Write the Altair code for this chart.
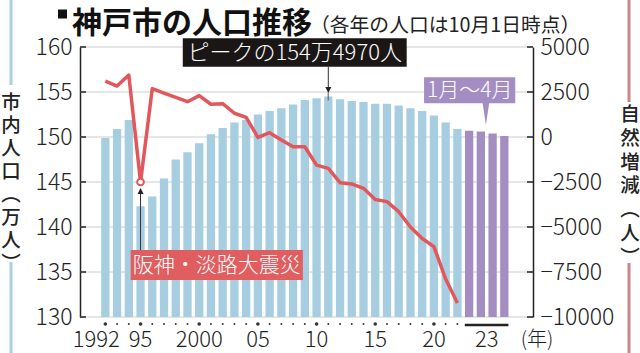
import altair as alt
import pandas as pd

# ---------------- data ----------------
years = list(range(1992, 2023))
population = [149.9, 150.9, 151.9, 142.3, 143.4, 145.4, 147.5, 148.3, 149.3, 150.3,
              151.0, 151.6, 151.9, 152.5, 152.9, 153.2, 153.6, 154.1, 154.3, 154.5,
              154.2, 154.0, 153.9, 153.7, 153.7, 153.5, 153.2, 152.9, 152.4, 151.6, 150.9]
natural_change = [3100, 2830, 3440, -2500, 2690, 2440, 2200, 1960, 2300, 1820,
                  1850, 1320, 1090, -20, 240, -170, -540, -540, -1560, -1740,
                  -2540, -2610, -2850, -3470, -3590, -4150, -5000, -5640, -6090, -7890, -9220]
months_2023 = ["1月", "2月", "3月", "4月"]
population_2023 = [150.7, 150.6, 150.4, 150.1]

tick_years = [1992, 1995, 2000, 2005, 2010, 2015, 2020]
tick_labels = ["1992", "95", "2000", "05", "10", "15", "20"]
label_2023 = "23"
year_unit = "(年)"
left_ticks = [130, 135, 140, 145, 150, 155, 160]
right_ticks = [-10000, -7500, -5000, -2500, 0, 2500, 5000]

title_text = "神戸市の人口推移"
subtitle_text = "（各年の人口は10月1日時点）"
peak_text = "ピークの154万4970人"
quake_text = "阪神・淡路大震災"
months_text = "1月～4月"
left_title = list("市内人口︵万人︶")
right_title = list("自然増減︵人︶")

# ---------------- tables ----------------
n = len(years)
df_years = pd.DataFrame({"i": list(range(n)), "year": years,
                         "pop": population, "nat": natural_change})
df_years["major"] = [(y % 5 == 0) or k == 0 for k, y in enumerate(years)]
df_months = pd.DataFrame({"i": list(range(n, n + len(months_2023))),
                          "month": months_2023, "pop": population_2023})
df_ticks = pd.DataFrame({"i": [y - years[0] for y in tick_years] + [df_months["i"].mean()],
                         "label": tick_labels + [label_2023]})
df_lt = pd.DataFrame({"v": left_ticks})
df_rt = pd.DataFrame({"v": right_ticks})
one = pd.DataFrame({"k": [0]})
peak_i = int(df_years["pop"].idxmax())
quake_i = years.index(1995)

# ---------------- styling ----------------
BLUE = "#a7cde1"
PURPLE = "#a48dc0"
RED = "#e0585b"
JP = "Noto Sans CJK JP"
NUM = "Noto Sans CJK JP"

xscale = alt.Scale(domain=[-1.733, 36.017], nice=False, zero=False)
yL = alt.Scale(domain=[130, 160], nice=False, zero=False)
yR = alt.Scale(domain=[-10000, 5000], nice=False, zero=False)

left_axis = alt.Axis(values=left_ticks, title=None, grid=False,
                     domainColor="#222", domainWidth=1.5, ticks=False,
                     labelFont=NUM, labelFontSize=23, labelFontWeight=300,
                     labelColor="#222", labelPadding=8)
right_axis = alt.Axis(values=right_ticks, title=None, orient="right", grid=False,
                      domainColor="#222", domainWidth=1.5, ticks=False, format="d",
                      labelFont=NUM, labelFontSize=23, labelFontWeight=300,
                      labelColor="#222", labelPadding=7)


def X(f):
    return alt.X(f, type="quantitative", scale=xscale, axis=None)


def XD(v):
    return alt.XDatum(v, type="quantitative", scale=xscale, axis=None)


def YD(v):
    return alt.YDatum(v, type="quantitative", scale=yL, axis=left_axis)


def YL(f):
    return alt.Y(f, type="quantitative", scale=yL, axis=left_axis)


def YR(f):
    return alt.Y(f, type="quantitative", scale=yR, axis=right_axis)


# ---------------- left layer (population) ----------------
grid = alt.Chart(df_lt).mark_rule(color="#cccccc", strokeWidth=1).encode(
    x=alt.value(0), x2=alt.value(453), y=YL("v"))
bars = alt.Chart(df_years).mark_bar(color=BLUE, size=8.3).encode(
    x=X("i"), y=YL("pop"), y2=alt.Y2Datum(130))
bars_m = alt.Chart(df_months).mark_bar(color=PURPLE, size=8.3).encode(
    x=X("i"), y=YL("pop"), y2=alt.Y2Datum(130))

left_hooks = alt.Chart(df_lt).mark_rule(color="#222", strokeWidth=1.5).encode(
    x=alt.value(0), x2=alt.value(6), y=YL("v"))

dots = alt.Chart(df_years).mark_circle(color="#333", opacity=1).encode(
    x=X("i"), y=alt.value(277),
    size=alt.condition("datum.major", alt.value(13), alt.value(4)))

under = alt.Chart(one).mark_rule(color="#222", strokeWidth=2.5).encode(
    x=XD(df_months["i"].min() - 0.37), x2=alt.X2Datum(df_months["i"].max() + 0.35),
    y=alt.value(278))

ticklab = alt.Chart(df_ticks).transform_filter("datum.i > 0").mark_text(
    font=NUM, fontSize=22, fontWeight=300, color="#222", baseline="alphabetic").encode(
    x=X("i"), y=alt.value(300), text="label:N")
ticklab0 = alt.Chart(df_ticks).transform_filter("datum.i == 0").mark_text(
    font=NUM, fontSize=22, fontWeight=300, color="#222", baseline="alphabetic", dx=-9).encode(
    x=X("i"), y=alt.value(300), text="label:N")
unit = alt.Chart(one).mark_text(text=year_unit, font=JP, fontSize=20, fontWeight=300,
                                color="#222", baseline="alphabetic").encode(
    x=alt.value(457), y=alt.value(299))

# peak annotation
peak_box = alt.Chart(one).mark_rect(color="#1b1616").encode(
    x=XD(6.6), x2=alt.X2Datum(25.68), y=YD(160.97), y2=alt.Y2Datum(157.81))
peak_lbl = alt.Chart(one).mark_text(text=peak_text, font=JP, fontSize=22, fontWeight=300,
                                    color="white", baseline="middle").encode(
    x=XD(16.14), y=YD(159.3))
peak_arrow = alt.Chart(one).mark_rule(color="#333", strokeWidth=1).encode(
    x=XD(peak_i), y=YD(157.81), y2=alt.Y2Datum(155.3))
peak_head = alt.Chart(one).mark_point(shape="M -1 -1 L 1 -1 L 0 1 Z", size=36,
                                      filled=True, color="#222", opacity=1).encode(
    x=XD(peak_i), y=YD(155.22))
peak_cap = alt.Chart(df_years).transform_filter(f"datum.i == {peak_i}").mark_tick(
    color="#555", thickness=1.5, size=8).encode(x=X("i"), y=YL("pop"))

# earthquake annotation
quake_box = alt.Chart(one).mark_rect(color="#e05d60").encode(
    x=XD(2.16), x2=alt.X2Datum(16.83), y=YD(137.44), y2=alt.Y2Datum(134.11))
quake_lbl = alt.Chart(one).mark_text(text=quake_text, font=JP, fontSize=21, fontWeight=300,
                                     color="white", baseline="middle").encode(
    x=XD(9.49), y=YD(135.72))
quake_arrow = alt.Chart(one).mark_rule(color="#333", strokeWidth=1).encode(
    x=XD(quake_i), y=YD(137.44), y2=alt.Y2Datum(144.0))
quake_head = alt.Chart(one).mark_point(shape="M -1 1 L 1 1 L 0 -1 Z", size=36,
                                       filled=True, color="#222", opacity=1).encode(
    x=XD(quake_i), y=YD(144.0))

# months annotation
mon_box = alt.Chart(one).mark_rect(color="#a48dc2").encode(
    x=XD(27.16), x2=alt.X2Datum(34.93), y=YD(156.63), y2=alt.Y2Datum(153.74))
mon_ptr = alt.Chart(one).mark_point(shape="M -0.3 -1 L 0.3 -1 L 0 1 Z", size=484,
                                    filled=True, color="#a48dc2", opacity=1).encode(
    x=XD(df_months["i"].mean() - 0.07), y=YD(152.56))
mon_lbl = alt.Chart(one).mark_text(text=months_text, font=JP, fontSize=21, fontWeight=300,
                                   color="white", baseline="middle").encode(
    x=XD(31.05), y=YD(155.15))

# titles & frame
square = alt.Chart(one).mark_square(color="#111", size=81, opacity=1).encode(
    x=alt.value(-17.5), y=alt.value(-33))
title = alt.Chart(one).mark_text(text=title_text, font=JP, fontSize=30, fontWeight="bold",
                                 color="#111", align="left", baseline="alphabetic").encode(
    x=alt.value(-8), y=alt.value(-14))
subtitle = alt.Chart(one).mark_text(text=subtitle_text, font=JP, fontSize=19.8,
                                    color="#222", align="left", baseline="alphabetic").encode(
    x=alt.value(230), y=alt.value(-15))
ltitle = alt.Chart(one).mark_text(text=left_title, font=JP, fontSize=19.5, fontWeight=500,
                                  color="#222", baseline="top", lineHeight=23.0).encode(
    x=alt.value(-69), y=alt.value(47))
rtitle = alt.Chart(one).mark_text(text=right_title, font=JP, fontSize=19.5, fontWeight=500,
                                  color="#222", baseline="top", lineHeight=23.8).encode(
    x=alt.value(550), y=alt.value(59))
bl1 = alt.Chart(one).mark_rule(color="#a9cfe0", strokeWidth=3).encode(
    x=alt.value(-69), y=alt.value(-47), y2=alt.value(38))
bl2 = alt.Chart(one).mark_rule(color="#a9cfe0", strokeWidth=3).encode(
    x=alt.value(-69), y=alt.value(215), y2=alt.value(306))
rl1 = alt.Chart(one).mark_rule(color="#c8858a", strokeWidth=3).encode(
    x=alt.value(549), y=alt.value(-47), y2=alt.value(55))
rl2 = alt.Chart(one).mark_rule(color="#c8858a", strokeWidth=3).encode(
    x=alt.value(549), y=alt.value(216), y2=alt.value(306))

left = alt.layer(grid, bars, bars_m, left_hooks, dots, under, ticklab, ticklab0, unit,
                 peak_box, peak_lbl, peak_arrow, peak_head, peak_cap,
                 quake_box, quake_lbl, quake_arrow, quake_head,
                 mon_box, mon_ptr, mon_lbl,
                 square, title, subtitle, ltitle, rtitle, bl1, bl2, rl1, rl2)

# ---------------- right layer (natural change) ----------------
line = alt.Chart(df_years).mark_line(color=RED, strokeWidth=3.5, strokeJoin="round").encode(
    x=X("i"), y=YR("nat"))
right_hooks = alt.Chart(df_rt).mark_rule(color="#222", strokeWidth=1.5).encode(
    x=alt.value(447), x2=alt.value(453), y=YR("v"))
circle = alt.Chart(df_years).transform_filter(f"datum.i == {quake_i}").mark_point(
    shape="circle", filled=True, fill="white", stroke=RED, strokeWidth=2,
    size=45, opacity=1).encode(x=X("i"), y=YR("nat"))

right = alt.layer(line, right_hooks, circle)

chart = alt.layer(left, right).resolve_scale(y="independent").properties(
    width=453, height=270,
    padding={"left": 80, "top": 47, "right": 107, "bottom": 36},
    autosize=alt.AutoSizeParams(type="none"),
    background="white",
).configure_view(stroke=None)

chart.save("out.html", embed_options={"renderer": "svg", "actions": False})
